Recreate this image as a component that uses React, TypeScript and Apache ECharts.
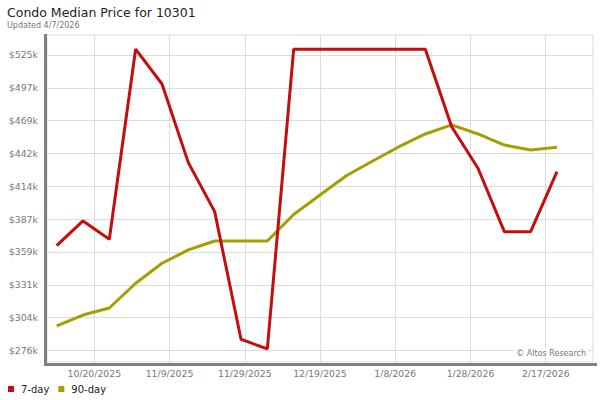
import React, { useEffect, useRef } from "react";
import * as echarts from "echarts";

// Weekly observation dates
const weekDates = [
  "2025-10-10", "2025-10-17", "2025-10-24", "2025-10-31", "2025-11-07",
  "2025-11-14", "2025-11-21", "2025-11-28", "2025-12-05", "2025-12-12",
  "2025-12-19", "2025-12-26", "2026-01-02", "2026-01-09", "2026-01-16",
  "2026-01-23", "2026-01-30", "2026-02-06", "2026-02-13", "2026-02-20",
];

// Median price, thousands of dollars
const sevenDay = [
  364.3, 385.1, 369.7, 529.6, 500.2, 434.1, 392.9, 285.6, 277.5, 529.4,
  529.4, 529.4, 529.4, 529.4, 529.4, 464.3, 429.4, 376.1, 376.1, 426.5,
];
const ninetyDay = [
  296.8, 306.0, 311.9, 332.7, 349.5, 360.7, 368.2, 368.2, 368.2, 390.5,
  406.9, 423.1, 435.5, 447.5, 458.2, 465.8, 458.2, 448.9, 444.7, 447.0,
];

// X tick dates and labels
const xTickDates = ["2025-10-20", "2025-11-09", "2025-11-29", "2025-12-19", "2026-01-08", "2026-01-28", "2026-02-17"];
const xTickLabels = ["10/20/2025", "11/9/2025", "11/29/2025", "12/19/2025", "1/8/2026", "1/28/2026", "2/17/2026"];

// Y tick values (thousands) and labels
const yTickValues = [276.2, 303.8, 331.4, 359.0, 386.6, 414.2, 441.8, 469.4, 497.0, 524.6];
const yTickLabels = ["$276k", "$304k", "$331k", "$359k", "$387k", "$414k", "$442k", "$469k", "$497k", "$525k"];

const DAY = 86400000;
const ts = (s: string) => Date.parse(s + "T00:00:00Z");
const xMin = ts("2025-10-20") - 12.57 * DAY;
const xMax = ts("2026-02-17") + 12.57 * DAY;
const yMin = 266.5;
const yMax = 541.4;

const FONT = '"DejaVu Sans", Verdana, sans-serif';

export default function App() {
  const ref = useRef<HTMLDivElement>(null);
  useEffect(() => {
    if (!ref.current) return;
    const chart = echarts.init(ref.current, undefined, { renderer: "svg" });
    const xTickTs = xTickDates.map(ts);
    chart.setOption({
      animation: false,
      backgroundColor: "#ffffff",
      textStyle: { fontFamily: FONT },
      title: {
        text: "Condo Median Price for 10301",
        subtext: "Updated 4/7/2026",
        left: 2,
        top: 1,
        itemGap: 2,
        textStyle: { fontFamily: FONT, fontSize: 12.5, fontWeight: "normal", color: "#222" },
        subtextStyle: { fontFamily: FONT, fontSize: 8, color: "#777" },
      },
      legend: {
        left: 3,
        top: 379,
        icon: "rect",
        itemWidth: 6,
        itemHeight: 6,
        itemGap: 9,
        textStyle: { fontFamily: FONT, fontSize: 10, color: "#222", padding: [0, 0, 0, 2] },
        data: [
          { name: "7-day", itemStyle: { color: "#c40d0d" } },
          { name: "90-day", itemStyle: { color: "#a59e00" } },
        ],
      },
      grid: {
        left: 47,
        right: 7,
        top: 35,
        bottom: 38,
        show: true,
        borderColor: "#dcdcdc",
        borderWidth: 1,
        containLabel: false,
      },
      xAxis: {
        type: "value",
        min: xMin,
        max: xMax,
        axisLine: { show: false },
        axisTick: { show: false, customValues: xTickTs },
        splitLine: { show: true, lineStyle: { color: "#dcdcdc", width: 1 } },
        axisLabel: {
          customValues: xTickTs,
          margin: 7,
          fontFamily: FONT,
          fontSize: 9.3,
          color: "#777",
          formatter: (v: number) => {
            const i = xTickTs.findIndex((t) => Math.abs(t - v) < DAY / 2);
            return i >= 0 ? xTickLabels[i] : "";
          },
        },
      },
      yAxis: {
        type: "value",
        min: yMin,
        max: yMax,
        axisLine: { show: false },
        axisTick: { show: false, customValues: yTickValues },
        splitLine: { show: true, lineStyle: { color: "#dcdcdc", width: 1 } },
        axisLabel: {
          customValues: yTickValues,
          margin: 9,
          fontFamily: FONT,
          fontSize: 9.4,
          color: "#777",
          formatter: (v: number) => {
            const i = yTickValues.findIndex((t) => Math.abs(t - v) < 0.05);
            return i >= 0 ? yTickLabels[i] : "";
          },
        },
      },
      graphic: [
        {
          type: "line",
          z: 100,
          shape: { x1: 45.5, y1: 34, x2: 45.5, y2: 366 },
          style: { stroke: "#808080", lineWidth: 3 },
        },
        {
          type: "line",
          z: 100,
          shape: { x1: 44, y1: 364.6, x2: 597, y2: 364.6 },
          style: { stroke: "#808080", lineWidth: 3 },
        },
        {
          type: "text",
          z: 100,
          right: 12,
          top: 348,
          style: {
            text: "© Altos Research",
            font: `8px ${FONT}`,
            fill: "#777",
            backgroundColor: "#ffffff",
            padding: [1, 2, 1, 2],
          },
        },
      ],
      series: [
        {
          name: "7-day",
          type: "line",
          data: weekDates.map((d, i) => [ts(d), sevenDay[i]]),
          showSymbol: false,
          symbol: "none",
          lineStyle: { color: "#c40d0d", width: 3 },
          itemStyle: { color: "#c40d0d" },
          z: 3,
        },
        {
          name: "90-day",
          type: "line",
          data: weekDates.map((d, i) => [ts(d), ninetyDay[i]]),
          showSymbol: false,
          symbol: "none",
          lineStyle: { color: "#a59e00", width: 3 },
          itemStyle: { color: "#a59e00" },
          z: 2,
        },
      ],
    });
    return () => chart.dispose();
  }, []);
  return (
    <div
      ref={ref}
      style={{ position: "fixed", left: 0, top: 0, width: 600, height: 400 }}
    />
  );
}
